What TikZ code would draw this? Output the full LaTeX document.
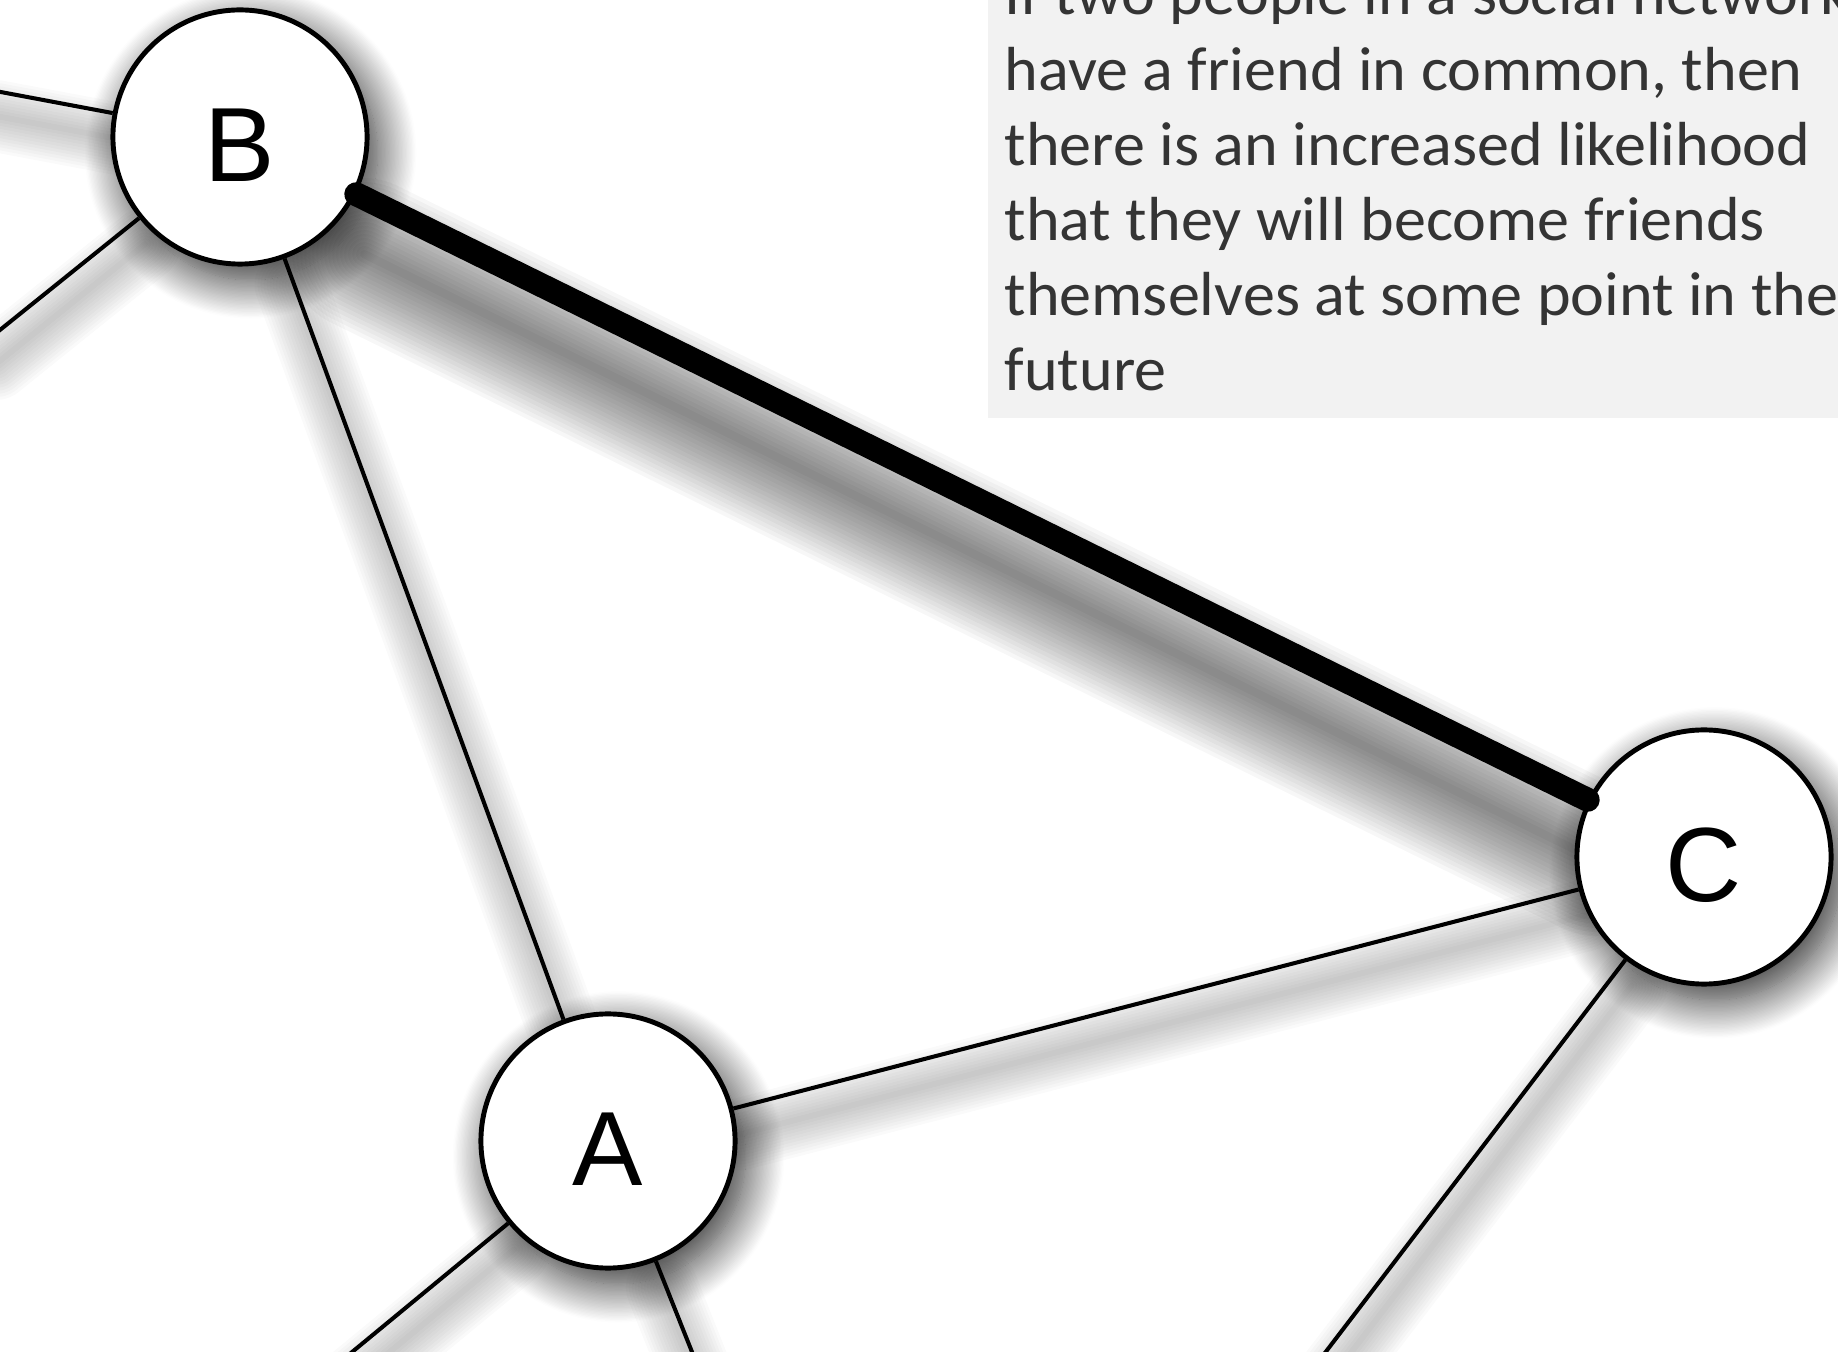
\documentclass[tikz,border=0pt]{standalone}
\usepackage{fontspec}
\setmainfont{Liberation Sans}
\newfontfamily\notefont[FakeStretch=1.03]{Carlito}
\usetikzlibrary{shadows.blur}
\definecolor{notegray}{RGB}{242,242,242}
\definecolor{notetext}{RGB}{52,52,52}
\pgfdeclarelayer{shade}
\pgfdeclarelayer{edges}
\pgfsetlayers{shade,edges,main}

\begin{document}
\begin{tikzpicture}[x=0.01cm,y=-0.01cm,
  person/.style={circle, draw=black, line width=1.4pt, fill=white,
    minimum size=2.54cm, inner sep=0pt,
    font=\fontsize{30}{30}\selectfont, text height=25.5pt, text depth=0pt,
    blur shadow={shadow xshift=3pt, shadow yshift=-4.5pt,
      shadow blur radius=11pt, shadow blur steps=30, shadow opacity=85}},
  tie/.style={line width=1.15pt, black},
  closure/.style={line width=6.8pt, line cap=round, black},
  noteline/.style={anchor=base west, inner sep=0pt, text=notetext,
    font=\notefont\fontsize{17.7}{21}\selectfont},
  tieshade/.style={transform canvas={shift={(6,26)}}, black, opacity=0.018,
    line cap=round},
  closureshade/.style={transform canvas={shift={(8,60)}}, black,
    opacity=0.032, line cap=round}
]
\useasboundingbox (0,0) rectangle (1838,1352);

% the three people
\node[person] (B) at (240,137) {B};
\node[person] (A) at (608,1141) {A};
\node[person] (C) at (1704,857) {C};

% ties that run on beyond the frame
\coordinate (bw)  at (-10,90);
\coordinate (bsw) at (-10,338);
\coordinate (asw) at (340,1362);
\coordinate (ase) at (696,1362);
\coordinate (csw) at (1318,1362);

% the note and the soft shadows under the ties
\begin{pgfonlayer}{shade}
  \fill[notegray] (988,-10) rectangle (1850,418);
  \node[noteline] (note1) at (1004,15)  {If two people in a social network};
  \node[noteline] (note2) at (1004,91)  {have a friend in common, then};
  \node[noteline] (note3) at (1004,166) {there is an increased likelihood};
  \node[noteline] (note4) at (1004,241) {that they will become friends};
  \node[noteline] (note5) at (1004,316) {themselves at some point in the};
  \node[noteline] (note6) at (1004,391) {future};

  \foreach \w in {6,12,...,72} {
    \draw[tieshade, line width=\w*0.01cm] (B) -- (bw);
    \draw[tieshade, line width=\w*0.01cm] (B) -- (bsw);
    \draw[tieshade, line width=\w*0.01cm] (B) -- (A);
    \draw[tieshade, line width=\w*0.01cm] (A) -- (C);
    \draw[tieshade, line width=\w*0.01cm] (A) -- (asw);
    \draw[tieshade, line width=\w*0.01cm] (A) -- (ase);
    \draw[tieshade, line width=\w*0.01cm] (C) -- (csw);
  }
  \foreach \w in {8,16,...,152} {
    \draw[closureshade, line width=\w*0.01cm] (B) -- (C);
  }
\end{pgfonlayer}

% existing friendships
\begin{pgfonlayer}{edges}
  \draw[tie] (B) -- (bw);
  \draw[tie] (B) -- (bsw);
  \draw[tie] (B) -- (A);
  \draw[tie] (A) -- (C);
  \draw[tie] (A) -- (asw);
  \draw[tie] (A) -- (ase);
  \draw[tie] (C) -- (csw);
\end{pgfonlayer}

% the new friendship closing the triangle
\draw[closure] (B) -- (C);
\end{tikzpicture}
\end{document}
